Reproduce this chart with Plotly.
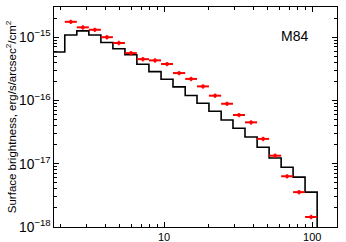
import numpy as np
import plotly.graph_objects as go

# Bin edges (arcsec)
edges = [1.78, 2.14, 2.58, 3.11, 3.75, 4.52, 5.45, 6.56, 7.91, 9.55, 11.5,
         13.9, 16.7, 20.1, 24.3, 29.2, 35.2, 42.5, 51.2, 61.7, 74.3, 89.5, 108.0]

# Model / background histogram level per bin
model = [5.84e-16, 1.08e-15, 1.26e-15, 1.08e-15, 8.24e-16, 6.56e-16, 5.27e-16,
         3.73e-16, 2.86e-16, 2.16e-16, 1.64e-16, 1.20e-16, 9.04e-17, 6.77e-17,
         4.90e-17, 3.63e-17, 2.65e-17, 1.82e-17, 1.23e-17, 8.8e-18, 6.15e-18,
         3.56e-18]

# Measured points (bins 2..22)
data_bins = list(range(1, 22))
data = [1.75e-15, 1.43e-15, 1.31e-15, 1.00e-15, 8.1e-16, 5.6e-16, 4.5e-16,
        4.3e-16, 3.77e-16, 2.71e-16, 2.19e-16, 1.67e-16, 1.19e-16, 8.87e-17,
        5.89e-17, 4.51e-17, 2.47e-17, 1.34e-17, 6.34e-18, 3.56e-18, 1.44e-18]

x_range = [1.81, 147.0]
y_range = [1e-18, 3.0e-15]

fig = go.Figure()

# step histogram
step_x = list(edges)
step_y = list(model) + [y_range[0]]
fig.add_trace(go.Scatter(x=step_x, y=step_y, mode="lines", line_shape="hv",
                         line=dict(color="black", width=1.6), showlegend=False,
                         hoverinfo="skip"))

# data points with bin-width error bars
lo = [edges[i] for i in data_bins]
hi = [edges[i + 1] for i in data_bins]
cx = [np.sqrt(a * b) for a, b in zip(lo, hi)]
fig.add_trace(go.Scatter(
    x=cx, y=data, mode="markers",
    marker=dict(color="red", size=3, symbol="square"),
    error_x=dict(type="data", symmetric=False,
                 array=[b - c for b, c in zip(hi, cx)],
                 arrayminus=[c - a for a, c in zip(lo, cx)],
                 color="red", thickness=2, width=0),
    error_y=dict(type="percent", value=8, color="red", thickness=1.5, width=0),
    showlegend=False))

axis_common = dict(type="log", showline=True, linecolor="black", linewidth=1.2,
                   mirror="allticks", ticks="inside", ticklen=5, tickwidth=1,
                   tickcolor="black", showgrid=False, zeroline=False, dtick=1,
                   minor=dict(ticks="inside", ticklen=3, tickcolor="black",
                              showgrid=False, dtick="D1"),
                   tickfont=dict(family="Liberation Sans, Arial", size=11,
                                 color="black"))

fig.update_xaxes(range=[np.log10(x_range[0]), np.log10(x_range[1])],
                 exponentformat="none", ticklabelstandoff=0, **axis_common)
fig.update_yaxes(range=[np.log10(y_range[0]), np.log10(y_range[1])],
                 exponentformat="power",
                 title=dict(text="Surface brightness, erg/s/arcsec<sup>2</sup>/cm<sup>2</sup>",
                            font=dict(family="Liberation Sans, Arial", size=11.5,
                                      color="black"), standoff=0),
                 **axis_common)

fig.add_annotation(text="M84", xref="paper", yref="paper", x=0.85, y=0.868,
                   showarrow=False, xanchor="center", yanchor="middle",
                   font=dict(family="Liberation Sans, Arial", size=14, color="black"))

fig.update_layout(width=346, height=242, plot_bgcolor="white",
                  paper_bgcolor="white",
                  margin=dict(l=54, r=9, t=7, b=15, autoexpand=False))

fig.write_html("out.html", config={"displayModeBar": False},
               post_script="document.body.style.margin='0';document.body.style.padding='0';")
